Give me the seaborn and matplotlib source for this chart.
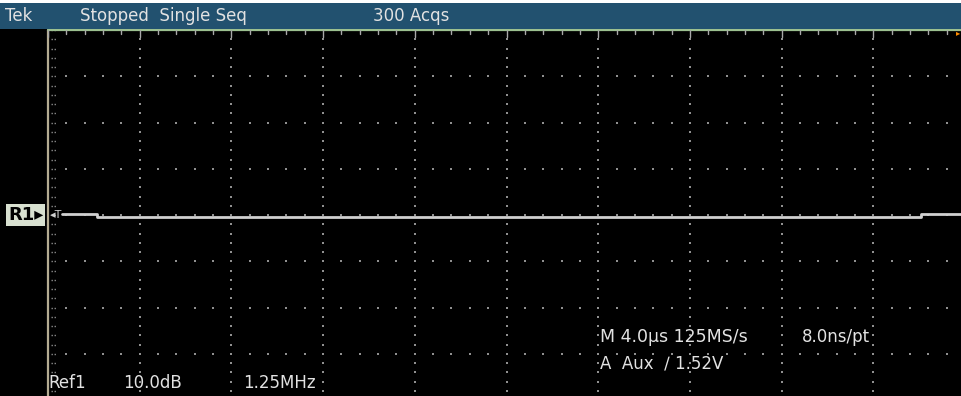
import numpy as np
import pandas as pd
import matplotlib
matplotlib.use("Agg")
import matplotlib.pyplot as plt
import seaborn as sns

# Ref1 trace, time in divisions (4.0 us/div), level in dB (10 dB/div)
trace_time = [0.15, 0.53, 0.53, 9.52, 9.52, 10.0]
trace_db = [0.2, 0.2, -0.35, -0.35, 0.2, 0.2]

header_texts = ["Tek", "Stopped  Single Seq", "300 Acqs"]
bottom_texts = ["Ref1", "10.0dB", "1.25MHz"]
timebase_texts = ["M 4.0\u00b5s 125MS/s", "8.0ns/pt", "A  Aux  \u2215 1.52V"]

W, H = 961, 396
DIV_X, DIV_Y = 91.7, 46.25
LEFT, TOP = 48, 30

sns.set_style("dark")
plt.rcParams["font.family"] = ["DejaVu Sans"]

fig = plt.figure(figsize=(W / 100, H / 100), dpi=100, facecolor="black")

# screen area in divisions: x 0..10, y -4..4 (10 dB/div)
ax = fig.add_axes([LEFT / W, (H - (TOP + 8 * DIV_Y)) / H, 10 * DIV_X / W, 8 * DIV_Y / H])
ax.set_facecolor("black")
ax.set_xlim(0, 10)
ax.set_ylim(-40, 40)
ax.set_axis_off()

# graticule dots
minor = np.arange(0, 10.001, 0.2)
for gx in range(1, 10):
    ys = np.arange(-40, 40.001, 2)
    ax.plot(np.full_like(ys, gx), ys, ls="none", marker="s", ms=1.6, color="#909090", mew=0)
for gy in range(-30, 31, 10):
    ax.plot(minor, np.full_like(minor, gy), ls="none", marker="s", ms=1.6, color="#909090", mew=0)

# left edge with tick marks
ax.plot([0, 0], [-40, 40], color="#b4ab92", lw=1.6, clip_on=False)
for ty in np.arange(-40, 40.001, 2):
    ax.plot([0.03, 0.09], [ty, ty], color="#8a8a8a", lw=1, dashes=(1, 1.2))
# top edge with tick marks
ax.plot([0, 10], [40, 40], color="#9cc090", lw=1.6, clip_on=False)
for tx in minor:
    ln = 1.6 if abs(tx - round(tx)) < 1e-6 else 0.9
    ax.plot([tx, tx], [40, 40 - ln], color="#a8a8a8", lw=1)

df = pd.DataFrame({"time": trace_time, "level": trace_db})
sns.lineplot(data=df, x="time", y="level", sort=False, estimator=None,
             color="#d0d0d0", lw=2, ax=ax)
if ax.get_legend():
    ax.get_legend().remove()

# header bar
fig.patches.append(plt.Rectangle((0, (H - 29) / H), 1, 26 / H, transform=fig.transFigure,
                                 facecolor="#22516f", edgecolor="none"))
fig.patches.append(plt.Rectangle((0, (H - 3) / H), 1, 3 / H, transform=fig.transFigure,
                                 facecolor="white", edgecolor="none"))
tc = "#e2e2e2"
for txt, px in zip(header_texts, [5, 80, 373]):
    fig.text(px / W, 1 - 16 / H, txt, color=tc, fontsize=12, va="center", ha="left")

# reference marker and trigger marker
fig.text(8 / W, 1 - 215 / H, "R1\u25b8", color="black", fontsize=13, fontweight="bold",
         va="center", ha="left",
         bbox=dict(boxstyle="square,pad=0.12", facecolor="#d8e0d0", edgecolor="none"))
fig.text(50 / W, 1 - 215 / H, "\u25c2T", color="#d0d0d0", fontsize=8, va="center", ha="left")
fig.text(956 / W, 1 - 33 / H, "\u25b8", color="#ff8c00", fontsize=6, va="center", ha="left")

# bottom readouts
for txt, px in zip(bottom_texts, [48, 123, 243]):
    fig.text(px / W, 1 - 383 / H, txt, color=tc, fontsize=12, va="center", ha="left")
fig.text(600 / W, 1 - 337 / H, timebase_texts[0], color=tc, fontsize=12.5, va="center", ha="left")
fig.text(802 / W, 1 - 337 / H, timebase_texts[1], color=tc, fontsize=12, va="center", ha="left")
fig.text(600 / W, 1 - 363 / H, timebase_texts[2], color=tc, fontsize=12, va="center", ha="left")

fig.savefig("out.png", dpi=100, facecolor="black")
